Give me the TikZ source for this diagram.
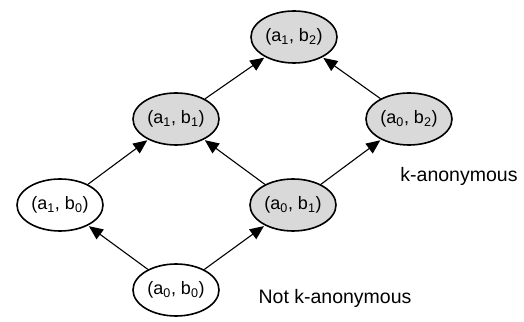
\documentclass[tikz,border=0pt]{standalone}
\usepackage{fontspec}
\setmainfont{Liberation Sans}
\usetikzlibrary{arrows.meta,shapes.geometric}
\begin{document}
\begin{tikzpicture}[x=1pt,y=1pt,
  state/.style={ellipse,draw=black,line width=1.6pt,minimum width=86pt,minimum height=52pt,inner sep=0pt,font=\fontsize{18}{20}\selectfont},
  good/.style={state,fill=gray!30},
  bad/.style={state,fill=white},
  link/.style={line width=1.1pt,-{Triangle[length=14pt,width=12pt]},shorten >=1pt},
  note/.style={font=\fontsize{19.5}{22}\selectfont}]
\useasboundingbox (0,0) rectangle (524,321);
\newcommand{\pair}[2]{(a\textsubscript{#1}, b\textsubscript{#2})}
\node[good] (a1b2) at (294,284) {\pair{1}{2}};
\node[good] (a1b1) at (176,202) {\pair{1}{1}};
\node[good] (a0b2) at (409,202) {\pair{0}{2}};
\node[bad]  (a1b0) at (60,116)  {\pair{1}{0}};
\node[good] (a0b1) at (293,116) {\pair{0}{1}};
\node[bad]  (a0b0) at (176,31)  {\pair{0}{0}};
\draw[link] (a0b0) -- (a1b0);
\draw[link] (a0b0) -- (a0b1);
\draw[link] (a1b0) -- (a1b1);
\draw[link] (a0b1) -- (a1b1);
\draw[link] (a0b1) -- (a0b2);
\draw[link] (a1b1) -- (a1b2);
\draw[link] (a0b2) -- (a1b2);
\node[note] (kanon) at (459,145) {k-anonymous};
\node[note] (notk) at (335,23) {Not k-anonymous};
\end{tikzpicture}
\end{document}
